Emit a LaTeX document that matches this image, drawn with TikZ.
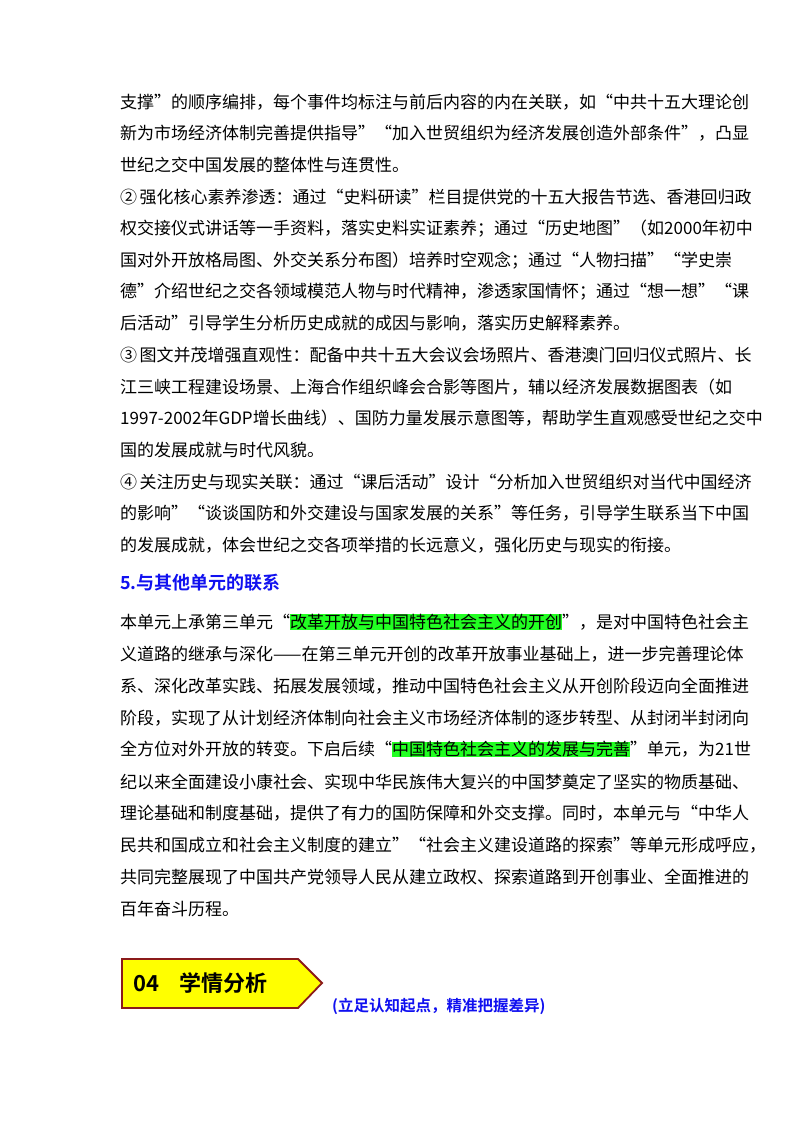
\documentclass[tikz,border=0pt]{standalone}
\usepackage{fontspec}
\setmainfont{Noto Sans CJK SC}
\newfontfamily\hb{Noto Sans CJK SC Bold}
\XeTeXlinebreaklocale "zh"
\XeTeXlinebreakskip=0pt plus 2pt
\definecolor{hl}{HTML}{22FF22}
\definecolor{bl}{HTML}{1010F0}
\definecolor{br}{HTML}{8B1A1A}
\definecolor{yl}{HTML}{FFFF00}
\newcommand{\hlt}[1]{{\setlength{\fboxsep}{0pt}\colorbox{hl}{#1}}}
\newcommand{\jl}[1]{\hbox to 560pt{#1}}
\tikzset{ln/.style={anchor=west,inner sep=0pt,font=\fontsize{17}{18}\selectfont}}
\begin{document}
\begin{tikzpicture}[x=1pt,y=-1pt]
\useasboundingbox[fill=white] (0,0) rectangle (800,1132);
\node[ln] (l1) at (120,102) {\jl{支撑”的顺序编排，每个事件均标注与前后内容的内在关联，如“中共十五大理论创}};
\node[ln] (l2) at (120,133.6) {\jl{新为市场经济体制完善提供指导”“加入世贸组织为经济发展创造外部条件”，凸显}};
\node[ln] (l3) at (120,165.3) {世纪之交中国发展的整体性与连贯性。};
\node[ln] (l4) at (120,196.9) {\jl{②\ 强化核心素养渗透：通过“史料研读”栏目提供党的十五大报告节选、香港回归政}};
\node[ln] (l5) at (120,228.6) {\jl{权交接仪式讲话等一手资料，落实史料实证素养；通过“历史地图”（如2000年初中}};
\node[ln] (l6) at (120,260.2) {\jl{国对外开放格局图、外交关系分布图）培养时空观念；通过“人物扫描”“学史崇}};
\node[ln] (l7) at (120,291.9) {\jl{德”介绍世纪之交各领域模范人物与时代精神，渗透家国情怀；通过“想一想”“课}};
\node[ln] (l8) at (120,323.5) {后活动”引导学生分析历史成就的成因与影响，落实历史解释素养。};
\node[ln] (l9) at (120,355.2) {\jl{③\ 图文并茂增强直观性：配备中共十五大会议会场照片、香港澳门回归仪式照片、长}};
\node[ln] (l10) at (120,386.8) {\jl{江三峡工程建设场景、上海合作组织峰会合影等图片，辅以经济发展数据图表（如}};
\node[ln] (l11) at (120,418.5) {\jl{1997-2002年GDP增长曲线）、国防力量发展示意图等，帮助学生直观感受世纪之交中}};
\node[ln] (l12) at (120,450.1) {国的发展成就与时代风貌。};
\node[ln] (l13) at (120,481.8) {\jl{④\ 关注历史与现实关联：通过“课后活动”设计“分析加入世贸组织对当代中国经济}};
\node[ln] (l14) at (120,513.4) {\jl{的影响”“谈谈国防和外交建设与国家发展的关系”等任务，引导学生联系当下中国}};
\node[ln] (l15) at (120,545) {\jl{的发展成就，体会世纪之交各项举措的长远意义，强化历史与现实的衔接。}};
\node[ln,text=bl,font=\hb\fontsize{18}{20}\selectfont] (h5) at (120,583) {5.与其他单元的联系};
\node[ln] (p1) at (120,622) {\jl{本单元上承第三单元“\hlt{改革开放与中国特色社会主义的开创}”，是对中国特色社会主}};
\node[ln] (p2) at (120,653.9) {\jl{义道路的继承与深化——在第三单元开创的改革开放事业基础上，进一步完善理论体}};
\node[ln] (p3) at (120,685.8) {\jl{系、深化改革实践、拓展发展领域，推动中国特色社会主义从开创阶段迈向全面推进}};
\node[ln] (p4) at (120,717.7) {\jl{阶段，实现了从计划经济体制向社会主义市场经济体制的逐步转型、从封闭半封闭向}};
\node[ln] (p5) at (120,749.6) {\jl{全方位对外开放的转变。下启后续“\hlt{中国特色社会主义的发展与完善}”单元，为21世}};
\node[ln] (p6) at (120,781.5) {\jl{纪以来全面建设小康社会、实现中华民族伟大复兴的中国梦奠定了坚实的物质基础、}};
\node[ln] (p7) at (120,813.4) {\jl{理论基础和制度基础，提供了有力的国防保障和外交支撑。同时，本单元与“中华人}};
\node[ln] (p8) at (120,845.3) {\jl{民共和国成立和社会主义制度的建立”“社会主义建设道路的探索”等单元形成呼应，}};
\node[ln] (p9) at (120,877.2) {\jl{共同完整展现了中国共产党领导人民从建立政权、探索道路到开创事业、全面推进的}};
\node[ln] (p10) at (120,909) {百年奋斗历程。};
\draw[br,line width=1.8pt,fill=yl,line join=miter] (122,959) -- (298,959) -- (322,983) -- (298,1008) -- (122,1008) -- cycle;
\node[anchor=west,inner sep=0pt,font=\hb\fontsize{22}{24}\selectfont] (t4) at (133,983.5) {04\hspace{20pt}学情分析};
\node[anchor=west,inner sep=0pt,text=bl,font=\hb\fontsize{15.5}{17}\selectfont] (sub) at (332,1006) {(立足认知起点，精准把握差异)};
\end{tikzpicture}
\end{document}
